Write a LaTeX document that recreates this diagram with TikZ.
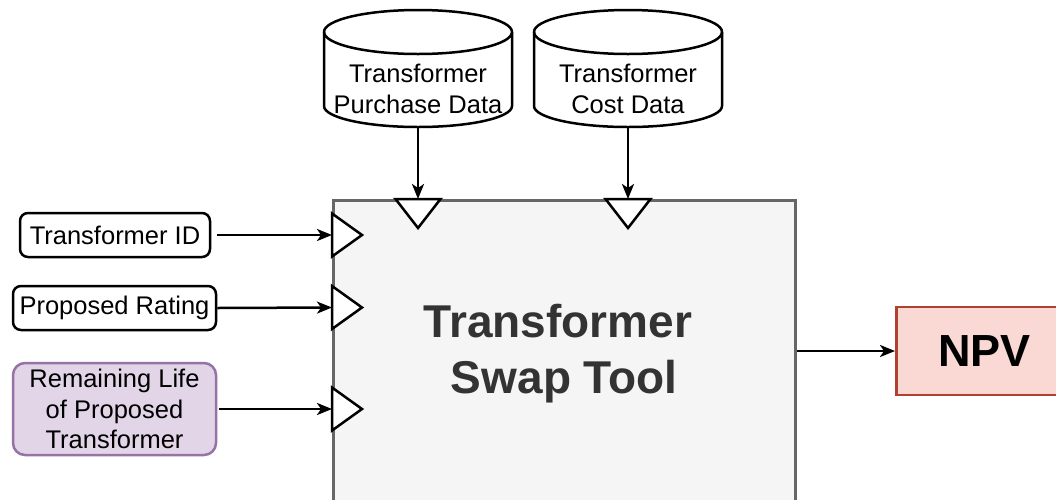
\documentclass[tikz,border=0pt]{standalone}
\usepackage{fontspec}
\setmainfont{Liberation Sans}
\usetikzlibrary{arrows.meta}
\definecolor{mainfill}{HTML}{F5F5F5}
\definecolor{mainstroke}{HTML}{666666}
\definecolor{titlecol}{HTML}{333333}
\definecolor{purplefill}{HTML}{E1D5E7}
\definecolor{purplestroke}{HTML}{9673A6}
\definecolor{redfill}{HTML}{FAD9D5}
\definecolor{redstroke}{HTML}{AE4132}
\begin{document}
\begin{tikzpicture}[x=1pt,y=1pt,
  lbl/.style={font=\fontsize{25.5}{30.6}\selectfont, align=center},
  inbox/.style={draw=black, line width=2.5pt, rounded corners=8pt, inner sep=0pt, fill=white, lbl},
  flow/.style={line width=2.5pt, -{Stealth[length=15pt,width=12pt,inset=4pt]}},
  port/.style={draw=black, fill=white, line width=2.5pt, line join=miter},
  cyl/.style={draw=black, fill=white, line width=2.5pt}]
\useasboundingbox (0,0) rectangle (1056,-499);
\clip (0,0) rectangle (1056,-499);
\fill[white] (0,0) rectangle (1056,-499);

% main box
\node[draw=mainstroke, fill=mainfill, line width=2.5pt, minimum width=462pt, minimum height=306pt,
      anchor=north west, inner sep=0pt, text=titlecol, align=center,
      font=\bfseries\fontsize{46}{56}\selectfont] (tool) at (332,-199) {Transformer\hphantom{\ }\\Swap Tool};

% cylinders
\foreach \cx in {418, 628}{
  \path[cyl] (\cx-94,-32) -- (\cx-94,-106)
     arc[start angle=180, end angle=360, x radius=94pt, y radius=21pt]
     -- (\cx+94,-32)
     arc[start angle=0, end angle=180, x radius=94pt, y radius=22pt] -- cycle;
  \draw[line width=2.5pt] (\cx-94,-32) arc[start angle=180, end angle=360, x radius=94pt, y radius=22pt];
}
\node[minimum width=188pt, minimum height=117pt, inner sep=0pt, anchor=north] (db1) at (418,-10) {};
\node[minimum width=188pt, minimum height=117pt, inner sep=0pt, anchor=north] (db2) at (628,-10) {};
\node[lbl] (db1t) at (418,-89) {Transformer\\Purchase Data};
\node[lbl] (db2t) at (628,-89) {Transformer\\Cost Data};

% input boxes
\node[inbox, minimum width=190pt, minimum height=44pt] (tid) at (115,-235) {Transformer ID};
\node[inbox, minimum width=203pt, minimum height=44pt] (rating) at (114.5,-308) {Proposed Rating};
\node[inbox, draw=purplestroke, fill=purplefill, rounded corners=12pt, minimum width=203pt, minimum height=92pt] (life) at (114.5,-409) {Remaining Life\\of Proposed\\Transformer};

% output
\node[draw=redstroke, fill=redfill, line width=2.5pt, minimum width=176pt, minimum height=88pt,
      anchor=west, inner sep=0pt, font=\bfseries\fontsize{45}{54}\selectfont] (npv) at (895,-351) {NPV};

% ports on left edge
\foreach \py in {235,307.5,409}{
  \path[port] (332,-\py+21.5) -- (362,-\py) -- (332,-\py-21.5) -- cycle;
}
% ports on top edge
\foreach \px in {418,628}{
  \path[port] (\px-22.5,-199) -- (\px,-228) -- (\px+22.5,-199) -- cycle;
}
\coordinate (p1) at (332,-235);
\coordinate (p2) at (332,-307.5);
\coordinate (p3) at (332,-409);
\coordinate (q1) at (418,-199);
\coordinate (q2) at (628,-199);

% connectors
\draw[flow] (tid.east) ++(6,0) -- (p1);
\draw[flow] (rating.east) -- (p2);
\draw[flow] (life.east) ++(2,0) -- (p3);
\draw[flow] (db1.south) -- (q1);
\draw[flow] (db2.south) -- (q2);
\draw[flow] (tool.east |- npv.west) -- (npv.west);
\end{tikzpicture}
\end{document}
